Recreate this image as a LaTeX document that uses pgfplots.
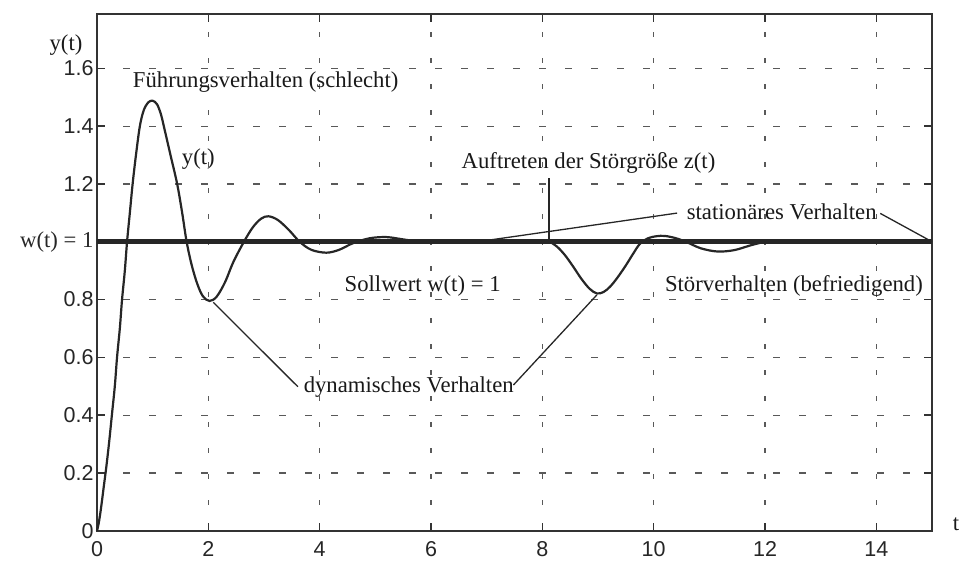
\documentclass[border=0pt]{standalone}
\usepackage{fontspec}
\setmainfont{Liberation Serif}
\setsansfont{Liberation Sans}
\usepackage{pgfplots}
\pgfplotsset{compat=1.18}
\newcommand\annot{\fontsize{22.7}{27}\selectfont}
\begin{document}
\begin{tikzpicture}
\useasboundingbox (0pt,0pt) rectangle (971pt,561pt);
\begin{axis}[
  at={(97pt,30.3pt)}, anchor=south west,
  scale only axis, width=835pt, height=516.7pt,
  xmin=0, xmax=15, ymin=0, ymax=1.788,
  axis line style={line width=1.8pt, black!80},
  xtick={0,2,4,6,8,10,12,14}, xticklabels={0,2,4,6,8,10,12,14},
  ytick={0,0.2,0.4,0.6,0.8,1,1.2,1.4,1.6},
  yticklabels={0,0.2,0.4,0.6,0.8,{\rmfamily\annot w(t) = 1},1.2,1.4,1.6},
  tick align=inside, major tick length=8pt,
  tick style={line width=1.5pt, black!80},
  ticklabel style={font=\sffamily\fontsize{21.5}{25}\selectfont, text=black!85},
  xticklabel style={yshift=-7pt},
  grid=major,
  grid style={line width=1.2pt, black!65},
  x grid style={line width=1.2pt, black!65, dash pattern=on 5pt off 21pt},
  y grid style={line width=1.2pt, black!65, dash pattern=on 7pt off 19pt},
  clip=false,
]
% setpoint w(t) = 1
\addplot[line width=4.5pt, black!85] coordinates {(0,1) (15,1)};
% step response y(t) incl. disturbance
\addplot[line width=2.2pt, black!85, smooth, tension=0.55] coordinates {
(0,0) (0.03,0.025) (0.07,0.075) (0.12,0.15) (0.17,0.225) (0.22,0.31) (0.27,0.405)
(0.32,0.5) (0.36,0.6) (0.41,0.7) (0.45,0.8) (0.5,0.9) (0.54,1.0) (0.59,1.1)
(0.64,1.2) (0.70,1.3) (0.77,1.4) (0.84,1.455) (0.92,1.482) (1.0,1.488)
(1.08,1.475) (1.15,1.44) (1.2,1.4) (1.32,1.3) (1.44,1.2) (1.53,1.1) (1.61,1.0)
(1.70,0.92) (1.8,0.855) (1.9,0.812) (2.02,0.795) (2.15,0.81) (2.3,0.86)
(2.45,0.93) (2.64,1.0) (2.8,1.05) (2.95,1.08) (3.08,1.088) (3.25,1.075)
(3.45,1.04) (3.64,1.0) (3.85,0.972) (4.12,0.962) (4.35,0.972) (4.6,0.995)
(4.9,1.012) (5.2,1.016) (5.5,1.008) (5.8,1.0) (6.2,0.999) (7,1.0) (7.8,1.0)
(8.1,1.0) (8.25,0.985) (8.4,0.955) (8.55,0.915) (8.7,0.872) (8.85,0.837)
(8.98,0.821) (9.1,0.826) (9.22,0.845) (9.35,0.876) (9.5,0.918) (9.63,0.958)
(9.75,0.992) (9.9,1.012) (10.05,1.019) (10.2,1.02) (10.4,1.012) (10.6,0.998)
(10.85,0.977) (11.15,0.966) (11.45,0.971) (11.75,0.988) (12.0,1.0)
};
% leader lines
\addplot[line width=1.3pt, black!85] coordinates {(3.61,0.498) (2.09,0.79)};
\addplot[line width=1.3pt, black!85] coordinates {(7.48,0.504) (8.98,0.816)};
\addplot[line width=1.3pt, black!85] coordinates {(8.12,1.22) (8.12,1.0)};
\addplot[line width=1.3pt, black!85] coordinates {(7.06,1.006) (10.42,1.099)};
\addplot[line width=1.3pt, black!85] coordinates {(14.07,1.098) (15,1.0)};
% annotations
\node[anchor=base, font=\annot, text=black!90] at (axis cs:3.03,1.533) {Führungsverhalten (schlecht)};
\node[anchor=base, font=\annot, text=black!90] at (axis cs:1.82,1.268) {y(t)};
\node[anchor=base, font=\annot, text=black!90] at (axis cs:8.83,1.254) {Auftreten der Störgröße z(t)};
\node[anchor=base, font=\annot, text=black!90] at (axis cs:12.30,1.077) {stationäres Verhalten};
\node[anchor=base, font=\annot, text=black!90] at (axis cs:5.85,0.829) {Sollwert w(t) = 1};
\node[anchor=base, font=\annot, text=black!90] at (axis cs:12.52,0.827) {Störverhalten (befriedigend)};
\node[anchor=base, font=\annot, text=black!90] at (axis cs:5.60,0.478) {dynamisches Verhalten};
% axis labels
\node[anchor=base, font=\annot, text=black!90] at (axis cs:-0.557,1.66) {y(t)};
\node[anchor=base, font=\annot, text=black!90] at (axis cs:15.43,0.0) {t};
\end{axis}
\end{tikzpicture}
\end{document}
